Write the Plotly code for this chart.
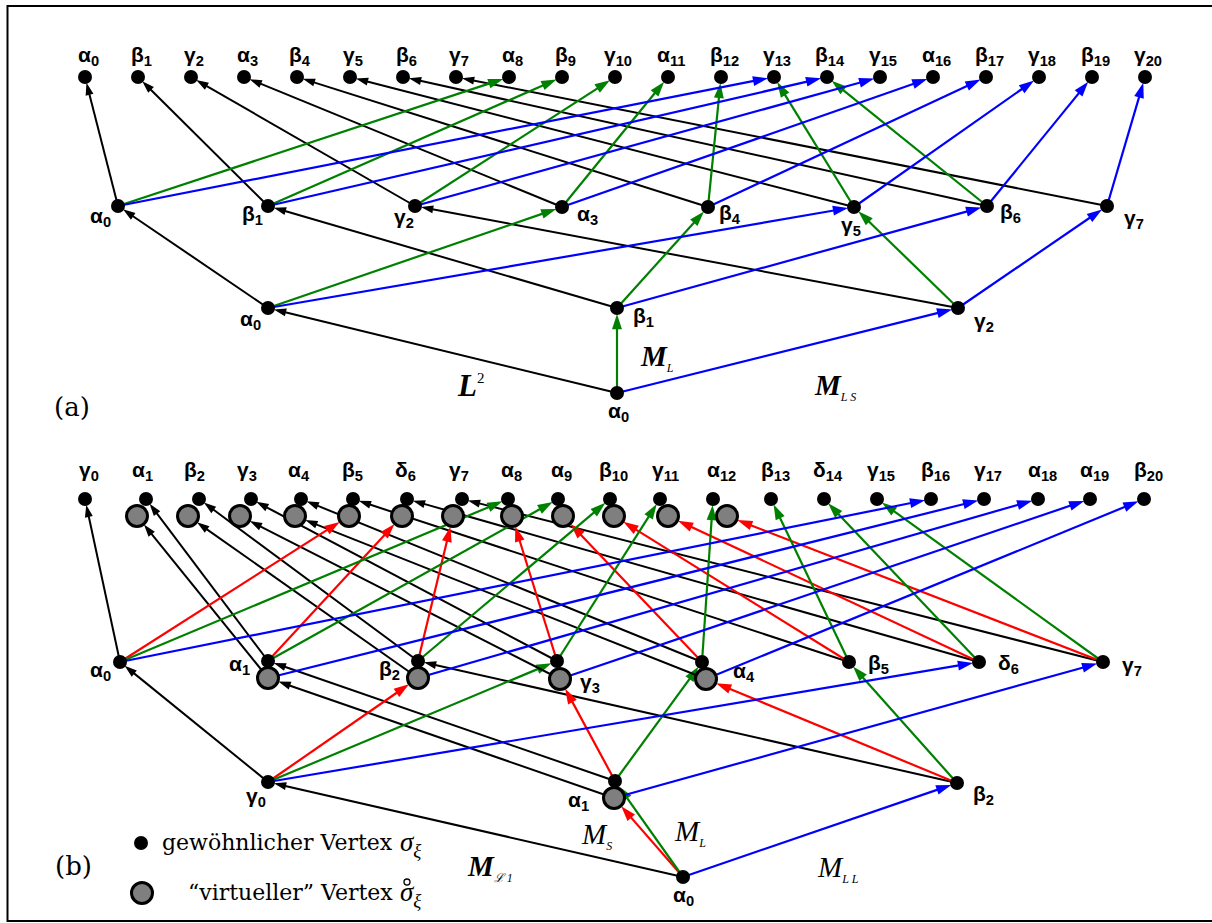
import plotly.graph_objects as go

# ------------------------------------------------------------------ data
# panel (a): node names per level
A_TOP = ["α0", "β1", "γ2", "α3", "β4", "γ5", "β6", "γ7", "α8", "β9", "γ10",
         "α11", "β12", "γ13", "β14", "γ15", "α16", "β17", "γ18", "β19", "γ20"]
A_MID = ["α0", "β1", "γ2", "α3", "β4", "γ5", "β6", "γ7"]
A_LOW = ["α0", "β1", "γ2"]
A_ROOT = ["α0"]

# panel (a) edges: (source index, target index) per operator colour
A_ROOT_LOW = {"k": [(0, 0)], "g": [(0, 1)], "b": [(0, 2)]}
A_LOW_MID = {"k": [(0, 0), (1, 1), (2, 2)],
             "g": [(0, 3), (1, 4), (2, 5)],
             "b": [(0, 5), (1, 6), (2, 7)]}
A_MID_TOP = {"k": [(0, 0), (1, 1), (2, 2), (3, 3), (4, 4), (5, 5), (6, 6), (7, 7)],
             "g": [(0, 8), (1, 9), (2, 10), (3, 11), (4, 12), (5, 13), (6, 14)],
             "b": [(0, 13), (1, 14), (2, 15), (3, 16), (4, 17), (5, 18), (6, 19), (7, 20)]}

# panel (b): node names per level, and which carry a "virtual" twin
B_TOP = ["γ0", "α1", "β2", "γ3", "α4", "β5", "δ6", "γ7", "α8", "α9", "β10",
         "γ11", "α12", "β13", "δ14", "γ15", "β16", "γ17", "α18", "α19", "β20"]
B_TOP_VIRT = [1, 2, 3, 4, 5, 6, 7, 8, 9, 10, 11, 12]
B_MID = ["α0", "α1", "β2", "γ3", "α4", "β5", "δ6", "γ7"]
B_MID_VIRT = [1, 2, 3, 4]
B_LOW = ["γ0", "α1", "β2"]
B_LOW_VIRT = [1]
B_ROOT = ["α0"]

# panel (b) edges: (source, target); "v" suffix = virtual vertex
B_ROOT_LOW = {"k": [(0, 0)], "r": [(0, "1v")], "g": [(0, 1)], "b": [(0, 2)]}
B_LOW_MID = {"k": [(0, 0), (1, 1), ("1v", "1v"), (2, 2)],
             "r": [(0, "2v"), (1, "3v"), (2, "4v")],
             "g": [(0, 3), (1, 4), (2, 5)],
             "b": [(0, 6), ("1v", 7)]}
B_MID_TOP = {"k": [(0, 0), (1, 1), (2, 2), (3, 3), (4, 4), (5, 5), (6, 6), (7, 7),
                   ("1v", "1v"), ("2v", "2v"), ("3v", "3v"), ("4v", "4v")],
             "r": [(0, "5v"), (1, "6v"), (2, "7v"), (3, "8v"), (4, "9v"), (5, "10v"),
                   (6, "11v"), (7, "12v")],
             "g": [(0, 8), (1, 9), (2, 10), (3, 11), (4, 12), (5, 13), (6, 14), (7, 15)],
             "b": [(0, 16), ("1v", 17), ("2v", 18), ("3v", 19), ("4v", 20)]}

LEGEND_TEXT = ["gewöhnlicher Vertex", "“virtueller” Vertex"]

# ------------------------------------------------------------------ geometry (pixel frame)
A_TOP_X = [85 + 53 * i for i in range(len(A_TOP))]
A_TOP_Y = 77
A_MID_XY = [(118, 206), (268, 206), (415, 206), (562, 207), (708, 207),
            (854, 207), (987, 206), (1107, 206)]
A_MID_LOFF = [(-18, 11), (-16, 9), (-11, 12), (25, 8), (22, 7), (-3, 19), (23, 7), (27, 13)]
A_LOW_XY = [(268, 308), (617, 308), (958, 308)]
A_LOW_LOFF = [(-18, 12), (26, 9), (26, 14)]
A_ROOT_XY = [(617, 393)]
A_ROOT_LOFF = [(1, 19)]

B_TOP_X = [85, 146, 199, 251, 301, 353, 407, 462, 508, 558, 610, 660, 713, 771,
           824, 877, 931, 984, 1038, 1090, 1144]
B_TOP_Y = 499
B_TOP_VX = {1: 137, 2: 188, 3: 240, 4: 295, 5: 349, 6: 402, 7: 453, 8: 512,
            9: 563, 10: 614, 11: 668, 12: 727}
B_TOP_VY = 516
B_MID_XY = [(120, 662), (268, 661), (418, 661), (557, 661), (702, 662),
            (849, 662), (979, 662), (1103, 662)]
B_MID_VXY = {1: (268, 678), 2: (418, 678), 3: (560, 679), 4: (706, 679)}
B_MID_LOFF = [(-20, 9), (-29, 4), (-29, 9), (33, 22), (42, 10), (29, 2), (29, 2), (29, 4)]
B_LOW_XY = [(268, 782), (615, 781), (957, 783)]
B_LOW_VXY = {1: (614, 798)}
B_LOW_LOFF = [(-12, 15), (-37, 20), (26, 12)]
B_ROOT_XY = [(683, 877)]
B_ROOT_LOFF = [(0, 19)]

COL = {"k": "#000000", "r": "#ff0000", "g": "#008000", "b": "#0000ff"}
DOT_R = 6
VIRT_R = 11

fig = go.Figure()


def pos_a(level, i):
    if level == "top":
        return (A_TOP_X[i], A_TOP_Y)
    return {"mid": A_MID_XY, "low": A_LOW_XY, "root": A_ROOT_XY}[level][i]


def pos_b(level, key):
    virt = isinstance(key, str)
    i = int(key[:-1]) if virt else key
    if level == "top":
        return ((B_TOP_VX[i], B_TOP_VY) if virt else (B_TOP_X[i], B_TOP_Y)), virt
    if level == "mid":
        return (B_MID_VXY[i] if virt else B_MID_XY[i]), virt
    if level == "low":
        return (B_LOW_VXY[i] if virt else B_LOW_XY[i]), virt
    return B_ROOT_XY[i], virt


def edge(p, q, color, r_target):
    black = color == "k"
    fig.add_trace(go.Scatter(
        x=[p[0], q[0]], y=[p[1], q[1]], mode="lines+markers",
        line=dict(color=COL[color], width=2.0 if black else 2.2),
        marker=dict(symbol="arrow", size=[0, 13 if black else 16], angleref="previous",
                    standoff=r_target, color=COL[color], opacity=1, line=dict(width=0)),
        hoverinfo="skip", showlegend=False))


# panel (a) edges
for edges, src, dst in [(A_ROOT_LOW, "root", "low"), (A_LOW_MID, "low", "mid"),
                        (A_MID_TOP, "mid", "top")]:
    for c, pairs in edges.items():
        for s, t in pairs:
            edge(pos_a(src, s), pos_a(dst, t), c, DOT_R)

# panel (b) edges
for edges, src, dst in [(B_ROOT_LOW, "root", "low"), (B_LOW_MID, "low", "mid"),
                        (B_MID_TOP, "mid", "top")]:
    for c, pairs in edges.items():
        for s, t in pairs:
            p, _ = pos_b(src, s)
            q, v = pos_b(dst, t)
            edge(p, q, c, VIRT_R if v else DOT_R)

# nodes
dots = ([(x, A_TOP_Y) for x in A_TOP_X] + A_MID_XY + A_LOW_XY + A_ROOT_XY +
        [(x, B_TOP_Y) for x in B_TOP_X] + B_MID_XY + B_LOW_XY + B_ROOT_XY + [(141, 843)])
fig.add_trace(go.Scatter(x=[d[0] for d in dots], y=[d[1] for d in dots], mode="markers",
                         marker=dict(size=14, color="black", line=dict(width=0)),
                         hoverinfo="skip", showlegend=False))
virts = ([(B_TOP_VX[i], B_TOP_VY) for i in B_TOP_VIRT] + [B_MID_VXY[i] for i in B_MID_VIRT] +
         [B_LOW_VXY[i] for i in B_LOW_VIRT] + [(142, 893)])
fig.add_trace(go.Scatter(x=[d[0] for d in virts], y=[d[1] for d in virts], mode="markers",
                         marker=dict(size=21, color="#7f7f7f", line=dict(width=3, color="black")),
                         hoverinfo="skip", showlegend=False))

ann = []


def glabel(name, x, y, size=21):
    txt = "<b>%s<sub>%s</sub></b>" % (name[0], name[1:])
    ann.append(dict(x=x, y=y, text=txt, showarrow=False, xanchor="center", yanchor="middle",
                    font=dict(family="Liberation Sans", size=size, color="black")))


for i, n in enumerate(A_TOP):
    glabel(n, A_TOP_X[i] + 3, A_TOP_Y - 21)
for n, (x, y), (dx, dy) in zip(A_MID, A_MID_XY, A_MID_LOFF):
    glabel(n, x + dx, y + dy)
for n, (x, y), (dx, dy) in zip(A_LOW, A_LOW_XY, A_LOW_LOFF):
    glabel(n, x + dx, y + dy)
for n, (x, y), (dx, dy) in zip(A_ROOT, A_ROOT_XY, A_ROOT_LOFF):
    glabel(n, x + dx, y + dy)

for i, n in enumerate(B_TOP):
    cx = (B_TOP_X[i] + B_TOP_VX[i]) / 2 + 1 if i in B_TOP_VX else B_TOP_X[i] + 4
    glabel(n, cx, B_TOP_Y - 28)
for n, (x, y), (dx, dy) in zip(B_MID, B_MID_XY, B_MID_LOFF):
    glabel(n, x + dx, y + dy)
for n, (x, y), (dx, dy) in zip(B_LOW, B_LOW_XY, B_LOW_LOFF):
    glabel(n, x + dx, y + dy)
for n, (x, y), (dx, dy) in zip(B_ROOT, B_ROOT_XY, B_ROOT_LOFF):
    glabel(n, x + dx, y + dy)

SERIF = "Liberation Serif"


def mtext(txt, x, y, size=29, anchor="center", family=SERIF):
    ann.append(dict(x=x, y=y, text=txt, showarrow=False, xanchor=anchor, yanchor="middle",
                    font=dict(family=family, size=size, color="black")))


def sub(s, fs=12):
    return "<sub><span style='font-size:%dpx'><i>%s</i></span></sub>" % (fs, s)


mtext("(a)", 72, 407, 26, family="DejaVu Serif")
mtext("(b)", 73, 866, 26, family="DejaVu Serif")
mtext("<b><i>L</i></b><sup><span style='font-size:15px'>2</span></sup>", 470, 385, 31)
mtext("<b><i>M</i></b>" + sub("L"), 657, 357)
mtext("<b><i>M</i></b>" + sub("L S"), 835, 386)
mtext("<b><i>M</i></b>" + sub("ℒ 1"), 490, 867)
mtext("<i>M</i>" + sub("S"), 596, 835)
mtext("<i>M</i>" + sub("L"), 690, 832)
mtext("<i>M</i>" + sub("L L"), 838, 868)

# legend texts
LX = 398
mtext(LEGEND_TEXT[0], LX - 3, 842, 22, "right", "DejaVu Serif")
mtext(LEGEND_TEXT[1], LX - 3, 892, 22, "right", "DejaVu Serif")
mtext("<i>σ</i><sub><i>ξ</i></sub>", LX, 844, 27, "left")
mtext("<i>σ</i><sub><i>ξ</i></sub>", LX, 894, 27, "left")
# ring accent over the "virtual" sigma
fig.add_trace(go.Scatter(x=[LX + 9], y=[882], mode="markers",
                         marker=dict(symbol="circle-open", size=6, color="black",
                                     line=dict(width=1.3, color="black")),
                         hoverinfo="skip", showlegend=False))

fig.update_layout(
    width=1212, height=923, margin=dict(l=0, r=0, t=0, b=0),
    paper_bgcolor="white", plot_bgcolor="white", annotations=ann,
    shapes=[dict(type="rect", xref="x", yref="y", x0=7.5, y0=6, x1=1240, y1=921,
                 line=dict(color="black", width=2))],
    xaxis=dict(range=[0, 1212], visible=False, fixedrange=True),
    yaxis=dict(range=[923, 0], visible=False, fixedrange=True),
)
fig.write_html("out.html")
